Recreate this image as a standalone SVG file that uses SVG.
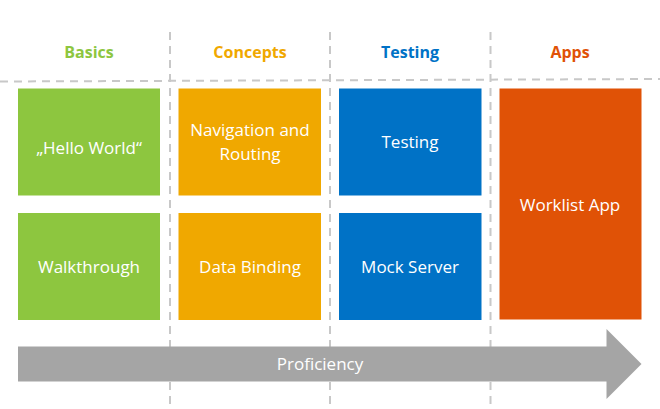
<svg xmlns="http://www.w3.org/2000/svg" width="660" height="409" viewBox="0 0 660 409">
  <style>
    .grid { stroke: #c8c8c8; stroke-width: 2; stroke-dasharray: 8 6; fill: none; }
    .head { font-family: "Open Sans", "Noto Sans", sans-serif; font-size: 16px; font-weight: bold; text-anchor: middle; }
    .label { font-family: "Open Sans", "Noto Sans", sans-serif; font-size: 17px; fill: #ffffff; text-anchor: middle; }
    .green { fill: #8dc63f; }
    .orange { fill: #f0a800; }
    .blue { fill: #0072c6; }
    .red { fill: #e05206; }
  </style>

  <!-- column and header separators -->
  <g id="grid">
    <line class="grid" x1="0" y1="81.5" x2="660" y2="79"/>
    <line class="grid" x1="170" y1="32" x2="170" y2="409"/>
    <line class="grid" x1="330" y1="32" x2="330" y2="409"/>
    <line class="grid" x1="490.5" y1="32" x2="490.5" y2="409"/>
  </g>

  <!-- column headers -->
  <g id="headers">
    <text class="head green" x="89" y="58">Basics</text>
    <text class="head orange" x="250" y="58">Concepts</text>
    <text class="head blue" x="410" y="58">Testing</text>
    <text class="head red" x="570" y="58">Apps</text>
  </g>

  <g id="hello-world">
    <rect class="green" x="18" y="88.5" width="142" height="107"/>
    <text class="label" x="89" y="154">„Hello World“</text>
  </g>
  <g id="walkthrough">
    <rect class="green" x="18" y="213" width="142" height="107"/>
    <text class="label" x="89" y="273">Walkthrough</text>
  </g>

  <g id="navigation-routing">
    <rect class="orange" x="178.5" y="88.5" width="142.5" height="107"/>
    <text class="label" x="250" y="136">Navigation and</text>
    <text class="label" x="250" y="160">Routing</text>
  </g>
  <g id="data-binding">
    <rect class="orange" x="178.5" y="213" width="142.5" height="107"/>
    <text class="label" x="250" y="273">Data Binding</text>
  </g>

  <g id="testing">
    <rect class="blue" x="339" y="88.5" width="142.5" height="107"/>
    <text class="label" x="410" y="148">Testing</text>
  </g>
  <g id="mock-server">
    <rect class="blue" x="339" y="213" width="142.5" height="107"/>
    <text class="label" x="410" y="273">Mock Server</text>
  </g>

  <g id="worklist-app">
    <rect class="red" x="499.5" y="88.5" width="142" height="231"/>
    <text class="label" x="570" y="211">Worklist App</text>
  </g>

  <!-- progression arrow -->
  <g id="connectors">
    <g id="proficiency">
      <polygon fill="#a5a5a5" points="18,346.5 606.5,346.5 606.5,329 641.5,364 606.5,399 606.5,381.5 18,381.5"/>
      <text class="label" x="320" y="370">Proficiency</text>
    </g>
  </g>
</svg>
